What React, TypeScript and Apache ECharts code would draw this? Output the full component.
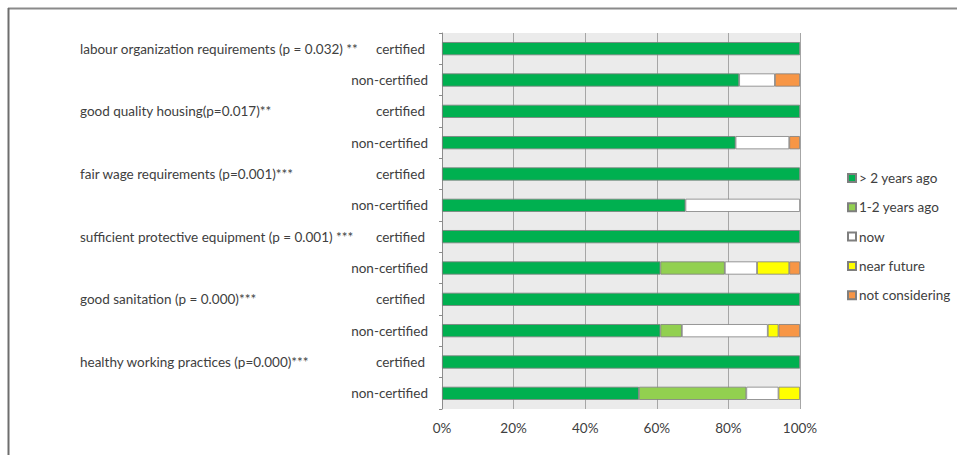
import React, { useEffect, useRef } from "react";
import * as echarts from "echarts";

const groups = [
  "labour organization requirements (p = 0.032) **",
  "good quality housing(p=0.017)**",
  "fair wage requirements (p=0.001)***",
  "sufficient protective equipment (p = 0.001) ***",
  "good sanitation (p = 0.000)***",
  "healthy working practices (p=0.000)***",
];
const statuses = ["certified", "non-certified"];
const seriesNames = ["> 2 years ago", "1-2 years ago", "now", "near future", "not considering"];
const seriesColors = ["#00b050", "#92d050", "#ffffff", "#ffff00", "#f79646"];
const over2 = [100, 83, 100, 82, 100, 68, 100, 61, 100, 61, 100, 55];
const oneTwo = [0, 0, 0, 0, 0, 0, 0, 18, 0, 6, 0, 30];
const nowVals = [0, 10, 0, 15, 0, 32, 0, 9, 0, 24, 0, 9];
const nearFuture = [0, 0, 0, 0, 0, 0, 0, 9, 0, 3, 0, 6];
const notConsidering = [0, 7, 0, 3, 0, 0, 0, 3, 0, 6, 0, 0];
const xTicks = [0, 20, 40, 60, 80, 100];

const FONT = "Lato";
const FS = 13.5;
const TEXT = "#404040";

export default function App() {
  const ref = useRef<HTMLDivElement>(null);
  useEffect(() => {
    document.body.style.margin = "0";
    const chart = echarts.init(ref.current!, null, { renderer: "svg" });
    const cats: string[] = [];
    groups.forEach((g, gi) => statuses.forEach((s) => cats.push(gi + "|" + s)));
    const values = [over2, oneTwo, nowVals, nearFuture, notConsidering];
    chart.setOption({
      animation: false,
      backgroundColor: "#ffffff",
      textStyle: { fontFamily: FONT },
      grid: {
        left: 442,
        right: 157,
        top: 33,
        bottom: 46,
        show: true,
        backgroundColor: "#ebebeb",
        borderWidth: 0,
      },
      legend: {
        orient: "vertical",
        left: 842,
        top: 166,
        itemWidth: 8,
        itemHeight: 8,
        itemGap: 15.3,
        icon: "rect",
        data: seriesNames,
        textStyle: { fontFamily: FONT, fontSize: FS, color: TEXT, padding: [0, 0, 0, -2] },
      },
      xAxis: {
        type: "value",
        min: xTicks[0],
        max: xTicks[xTicks.length - 1],
        interval: xTicks[1] - xTicks[0],
        axisLine: { show: false },
        axisTick: { show: false },
        splitLine: { show: true, lineStyle: { color: "#a6a6a6", width: 1 } },
        axisLabel: {
          formatter: "{value}%",
          margin: 12,
          fontFamily: FONT,
          fontSize: FS,
          color: TEXT,
        },
      },
      yAxis: [
        {
          type: "category",
          inverse: true,
          data: cats,
          position: "left",
          axisLine: { show: true, lineStyle: { color: "#8c8c8c" } },
          axisTick: { show: true, length: 3, lineStyle: { color: "#8c8c8c" } },
          axisLabel: {
            margin: 14,
            fontFamily: FONT,
            fontSize: FS,
            color: TEXT,
            formatter: (v: string) => {
              const s = v.split("|")[1];
              return s === "certified" ? "{c|" + s + "}" : s;
            },
            rich: { c: { padding: [0, 3, 0, 0], fontFamily: FONT, fontSize: FS, color: TEXT } },
          },
        },
        {
          type: "category",
          inverse: true,
          data: cats,
          position: "left",
          axisLine: { show: false },
          axisTick: { show: false },
          axisLabel: {
            margin: 362,
            align: "left",
            fontFamily: FONT,
            fontSize: FS,
            color: TEXT,
            formatter: (v: string) => {
              const [gi, s] = v.split("|");
              return s === "certified" ? groups[Number(gi)] : "";
            },
          },
        },
      ],
      series: seriesNames.map((name, i) => ({
        name,
        type: "bar",
        stack: "total",
        yAxisIndex: 0,
        barWidth: "42%",
        itemStyle: { color: seriesColors[i], borderColor: "#7f7f7f", borderWidth: 0.8 },
        data: values[i].map((v) => (v ? v : null)),
      })),
      graphic: [
        {
          type: "line",
          shape: { x1: 8, y1: 8.5, x2: 957, y2: 8.5 },
          style: { stroke: "#8a8a8a", lineWidth: 2 },
        },
        {
          type: "line",
          shape: { x1: 8.5, y1: 8, x2: 8.5, y2: 455 },
          style: { stroke: "#6e6e6e", lineWidth: 2 },
        },
      ],
    });
    return () => chart.dispose();
  }, []);
  return <div ref={ref} style={{ position: "fixed", left: 0, top: 0, width: 957, height: 455 }} />;
}
